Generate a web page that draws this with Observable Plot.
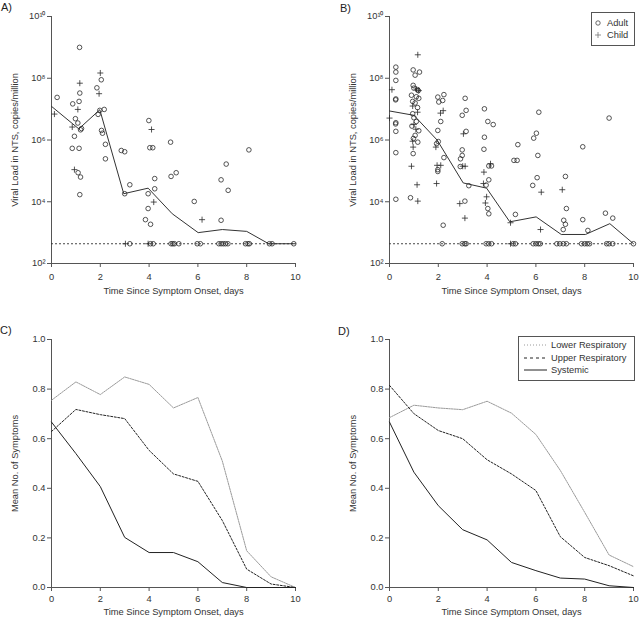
<!DOCTYPE html>
<html><head><meta charset="utf-8">
<script src="https://cdn.jsdelivr.net/npm/d3@7"></script>
<script src="https://cdn.jsdelivr.net/npm/@observablehq/plot@0.6"></script>
<style>
body{margin:0;background:#fff;}
#wrap{position:relative;width:640px;height:618px;font-family:"Liberation Sans",Arial,sans-serif;color:#222;overflow:hidden;}
.panel{position:absolute;}
.panel svg{display:block;}
.tag{position:absolute;font-size:11px;line-height:11px;color:#222;}
.leg{position:absolute;border:1px solid #555;background:#fff;box-sizing:border-box;}
.lt{position:absolute;font-size:9.3px;line-height:10px;color:#333;white-space:nowrap;}
</style></head><body><div id="wrap"></div>
<script>
// ---------- data ----------
const xTicks = [0, 2, 4, 6, 8, 10];
const xDomain = [0, 10];
const logTicks = [2, 4, 6, 8, 10];          // exponents of 10
const logDomain = [2, 10];
const detectionLog = 2.64;                  // limit of detection (log10 copies/million)
const symptomTicks = [0, 0.2, 0.4, 0.6, 0.8, 1.0];
const days = [0, 1, 2, 3, 4, 5, 6, 7, 8, 9, 10];

// Panel A: [day, log10 viral load]
const adultA = [[1.15,9.0],[0.23,7.38],[1.16,7.52],[1.13,7.25],[0.87,7.17],[0.98,6.69],[1.08,6.55],[1.23,6.37],[1.19,6.33],[0.94,6.12],[0.85,5.73],[1.13,5.73],
[2.04,7.95],[1.86,7.69],[1.98,6.96],[2.16,6.99],[1.91,6.83],[2.05,6.31],[2.09,6.22],[2.21,5.86],[2.21,5.39],
[2.86,5.66],[3.0,5.62],[1.09,4.94],[1.19,4.8],[1.16,4.23],[3.21,4.55],[3.0,4.26],
[3.99,6.63],[4.03,5.75],[4.15,5.75],[4.23,4.75],[4.23,4.42],[3.96,4.26],[3.96,3.78],[3.85,3.42],[4.06,3.27],
[4.88,5.93],[8.09,5.68],[7.16,5.22],[4.9,4.82],[5.11,4.94],[6.95,4.71],[7.24,4.37],[5.85,4.01],[6.95,3.40]];
const adultA_lod = [3.21,4.06,4.17,4.9,4.97,5.04,5.22,5.97,6.1,6.86,6.95,7.04,7.13,7.23,7.95,8.05,8.11,8.93,9.04,9.93];
const childA = [[1.16,7.84],[1.08,6.99],[0.12,6.84],[0.85,6.42],[2.0,8.17],[1.95,7.5],[4.1,6.34],[0.94,5.04],[4.19,3.99],[6.17,3.42]];
const childA_lod = [3.03,3.96];
const medianA = [[0,7.09],[1.12,6.36],[1.98,6.98],[2.96,4.26],[3.96,4.44],[4.95,3.61],[6.01,3.0],[7.0,3.1],[8.0,3.04],[8.9,2.64],[10,2.64]];

// Panel B
const adultB = [[0.26,8.36],[0.26,8.2],[0.26,7.93],[0.26,7.33],[0.25,7.3],[0.26,6.56],[0.25,6.52],[0.26,6.28],[0.26,5.59],[0.26,4.08],
[0.97,8.27],[1.23,8.2],[1.05,8.1],[0.97,7.77],[1.0,7.68],[1.15,7.63],[1.18,7.6],[0.9,7.45],[1.1,7.4],[1.2,7.35],[0.95,7.25],[1.05,7.2],[1.15,7.05],[0.95,6.85],[1.0,6.72],[1.1,6.6],[0.92,6.45],[1.2,6.3],[1.05,6.15],[0.98,6.05],[1.16,5.93],[0.97,5.56],[0.86,4.13],
[1.98,7.39],[2.23,7.47],[2.18,7.28],[2.02,7.23],[1.98,6.31],[2.1,6.6],[1.93,5.88],[2.0,5.95],[2.23,5.43],[1.98,5.04],[1.98,4.98],[2.2,3.24],
[3.1,7.35],[3.14,6.96],[2.98,6.8],[3.14,6.28],[2.98,5.68],[2.98,5.5],[2.91,5.39],[2.9,5.14],[3.25,4.52],[3.09,4.02],
[3.89,7.01],[4.03,6.6],[4.25,6.5],[3.89,6.09],[3.87,5.7],[4.07,5.16],[4.18,5.16],[4.07,4.71],[3.96,4.54],[4.03,3.78],[4.07,3.61],
[5.26,5.85],[5.1,5.34],[5.23,5.34],[5.16,3.59],
[6.12,6.9],[6.02,6.22],[5.91,6.06],[6.08,5.5],[6.05,4.78],[5.87,4.53],
[7.21,4.82],[7.25,3.78],[7.14,3.4],[7.21,3.27],[7.12,3.1],
[7.92,5.78],[7.92,3.42],[8.13,3.07],
[9.0,6.71],[8.85,3.63],[9.15,3.47]];
const adultB_lod = [2.16,2.98,3.09,3.14,3.96,4.07,4.18,5.07,5.16,5.89,6.0,6.1,6.18,6.86,6.98,7.12,7.25,7.87,8.0,8.1,8.2,8.9,9.0,9.15,10.0];
const childB = [[0.1,7.63],[0.0,6.71],[1.16,8.76],[1.1,7.65],[1.2,7.6],[0.95,7.1],[1.15,6.9],[1.0,6.5],[1.08,6.35],[0.95,5.96],[0.97,5.77],[0.9,5.15],[1.13,4.55],[1.16,4.02],
[2.09,6.87],[2.2,6.95],[1.9,5.77],[1.95,5.18],[2.1,5.18],[1.93,4.59],
[3.03,6.2],[3.0,5.15],[3.1,5.15],[2.88,3.94],[3.09,3.47],
[4.14,5.23],[3.87,4.96],[3.85,4.59],[3.98,4.16],[3.93,3.96],
[4.96,3.32],[6.22,4.31],[6.19,3.1],[7.08,4.39]];
const childB_lod = [4.96];
const medianB = [[0,6.94],[1.0,6.8],[1.95,6.0],[3.02,4.61],[3.98,4.44],[4.93,3.35],[6.01,3.51],[7.04,2.94],[8.03,2.94],[9.03,3.29],[10,2.64]];

// Panels C and D: mean number of symptoms by day
const lowerC  = [0.755,0.829,0.778,0.849,0.819,0.724,0.766,0.51,0.148,0.043,0];
const upperC  = [0.629,0.718,0.697,0.681,0.553,0.458,0.428,0.27,0.074,0.014,0];
const systemicC = [0.667,0.54,0.407,0.202,0.141,0.141,0.104,0.02,0,0,0];
const lowerD  = [0.685,0.735,0.724,0.717,0.751,0.703,0.617,0.472,0.303,0.131,0.084];
const upperD  = [0.815,0.701,0.633,0.6,0.515,0.458,0.391,0.205,0.121,0.088,0.047];
const systemicD = [0.667,0.465,0.33,0.233,0.192,0.101,0.068,0.038,0.034,0.007,0];

const seriesNames = ["Lower Respiratory", "Upper Respiratory", "Systemic"];
const groupNames = ["Adult", "Child"];

// ---------- styles ----------
const axisColor = "#555";
const inkColor = "#2a2a2a";
const lineStyles = {
  "Lower Respiratory": {stroke: "#9a9a9a", dash: "1.6,1"},
  "Upper Respiratory": {stroke: "#222", dash: "2,1.6"},
  "Systemic": {stroke: "#222", dash: null}
};
const FONT = "'Liberation Sans', Arial, sans-serif";
const FS = "9.3px";
const sup = {"0":"⁰","1":"¹","2":"²","3":"³","4":"⁴","5":"⁵","6":"⁶","7":"⁷","8":"⁸","9":"⁹"};
const powFmt = v => "10" + String(Math.round(Math.log10(v))).split("").map(c => sup[c]).join("");

function axes(yTickVals, yFmt, yLabel, yDom, xPad, xLabOff) {
  return [
    Plot.ruleY([yDom[0]], {stroke: axisColor, strokeWidth: 1}),
    Plot.ruleX([xDomain[0]], {stroke: axisColor, strokeWidth: 1}),
    Plot.axisX(xTicks, {tickSize: 4, tickPadding: xPad, stroke: axisColor, color: "#333",
      label: "Time Since Symptom Onset, days", labelAnchor: "center", labelOffset: xLabOff, labelArrow: "none"}),
    Plot.axisY(yTickVals, {tickSize: 4, tickPadding: 2, stroke: axisColor, color: "#333", tickFormat: yFmt,
      label: yLabel, labelAnchor: "center", labelOffset: 40, labelArrow: "none"})
  ];
}

function viralPlot(adult, adultLod, child, childLod, median, mLeft, mRight) {
  const yTickVals = logTicks.map(e => 10 ** e);
  const yDom = logDomain.map(e => 10 ** e);
  const lod = 10 ** detectionLog;
  return Plot.plot({
    width: 320, height: 309,
    marginTop: 16, marginBottom: 46, marginLeft: mLeft, marginRight: mRight,
    style: {fontSize: FS, fontFamily: FONT, background: "transparent", color: "#333", overflow: "visible"},
    x: {domain: xDomain, axis: null},
    y: {type: "log", domain: yDom, axis: null},
    marks: [
      ...axes(yTickVals, powFmt, "Viral Load in NTS, copies/million", yDom, 6, 30),
      Plot.ruleY([lod], {x1: xDomain[0], x2: xDomain[1], stroke: "#333", strokeWidth: 0.9, strokeDasharray: "2,2"}),
      Plot.line(median, {x: d => d[0], y: d => 10 ** d[1], stroke: "#333", strokeWidth: 1}),
      Plot.dot(adult, {x: d => d[0], y: d => 10 ** d[1], r: 2.3, stroke: inkColor, strokeWidth: 0.8, fill: "none"}),
      Plot.dot(adultLod, {x: d => d, y: () => lod, r: 2.3, stroke: inkColor, strokeWidth: 0.8, fill: "none"}),
      Plot.dot(child, {x: d => d[0], y: d => 10 ** d[1], r: 2.1, symbol: "plus", stroke: inkColor, strokeWidth: 0.8}),
      Plot.dot(childLod, {x: d => d, y: () => lod, r: 2.1, symbol: "plus", stroke: inkColor, strokeWidth: 0.8})
    ]
  });
}

function symptomPlot(lower, upper, systemic, mLeft, mRight) {
  const rows = [];
  [lower, upper, systemic].forEach((arr, i) => arr.forEach((v, j) => rows.push({day: days[j], v, s: seriesNames[i]})));
  const yDom = [0, 1];
  return Plot.plot({
    width: 320, height: 309,
    marginTop: 30, marginBottom: 31, marginLeft: mLeft, marginRight: mRight,
    style: {fontSize: FS, fontFamily: FONT, background: "transparent", color: "#333", overflow: "visible"},
    x: {domain: xDomain, axis: null},
    y: {domain: yDom, axis: null},
    marks: [
      ...axes(symptomTicks, d3.format(".1f"), "Mean No. of Symptoms", yDom, 4, 27),
      ...seriesNames.map(name => Plot.line(rows.filter(r => r.s === name), {
        x: "day", y: "v", stroke: lineStyles[name].stroke, strokeWidth: 1,
        strokeDasharray: lineStyles[name].dash || undefined
      }))
    ]
  });
}

const wrap = document.getElementById("wrap");
function place(node, left, top) {
  const d = document.createElement("div");
  d.className = "panel"; d.style.left = left + "px"; d.style.top = top + "px";
  d.appendChild(node); wrap.appendChild(d);
}
place(viralPlot(adultA, adultA_lod, childA, childA_lod, medianA, 51, 25), 0, 0);
place(viralPlot(adultB, adultB_lod, childB, childB_lod, medianB, 69, 7), 320, 0);
place(symptomPlot(lowerC, upperC, systemicC, 51, 25), 0, 309);
place(symptomPlot(lowerD, upperD, systemicD, 69, 7), 320, 309);

function tag(txt, left, top) {
  const t = document.createElement("div"); t.className = "tag"; t.textContent = txt;
  t.style.left = left + "px"; t.style.top = top + "px"; wrap.appendChild(t);
}
tag("A)", 1, 2); tag("B)", 340, 3); tag("C)", 0, 325); tag("D)", 338, 326);

// legend B
const lb = document.createElement("div"); lb.className = "leg";
Object.assign(lb.style, {left: "591px", top: "12px", width: "44px", height: "34px"});
wrap.appendChild(lb);
const ns = "http://www.w3.org/2000/svg";
function svgEl(w, h) { const s = document.createElementNS(ns, "svg"); s.setAttribute("width", w); s.setAttribute("height", h); s.style.position = "absolute"; s.style.overflow = "visible"; return s; }
groupNames.forEach((g, i) => {
  const cy = 23 + i * 11.5;
  const s = svgEl(8, 8); s.style.left = "594px"; s.style.top = (cy - 4) + "px";
  if (g === "Adult") {
    const c = document.createElementNS(ns, "circle"); c.setAttribute("cx", 4); c.setAttribute("cy", 4); c.setAttribute("r", 2.2);
    c.setAttribute("fill", "none"); c.setAttribute("stroke", "#444"); c.setAttribute("stroke-width", 0.8); s.appendChild(c);
  } else {
    const p = document.createElementNS(ns, "path"); p.setAttribute("d", "M1,4H7M4,1V7");
    p.setAttribute("stroke", "#777"); p.setAttribute("stroke-width", 0.8); s.appendChild(p);
  }
  wrap.appendChild(s);
  const t = document.createElement("div"); t.className = "lt"; t.textContent = g;
  t.style.left = "607px"; t.style.top = (cy - 5) + "px"; wrap.appendChild(t);
});

// legend D
const ld = document.createElement("div"); ld.className = "leg";
Object.assign(ld.style, {left: "518px", top: "336px", width: "117px", height: "45px"});
wrap.appendChild(ld);
seriesNames.forEach((name, i) => {
  const cy = 345 + i * 12.7;
  const s = svgEl(24, 4); s.style.left = "524px"; s.style.top = (cy - 2) + "px";
  const l = document.createElementNS(ns, "line");
  l.setAttribute("x1", 0); l.setAttribute("x2", 23); l.setAttribute("y1", 2); l.setAttribute("y2", 2);
  l.setAttribute("stroke", lineStyles[name].stroke); l.setAttribute("stroke-width", 1);
  if (lineStyles[name].dash) l.setAttribute("stroke-dasharray", name === "Lower Respiratory" ? "1,2" : "3,3");
  s.appendChild(l); wrap.appendChild(s);
  const t = document.createElement("div"); t.className = "lt"; t.textContent = name;
  t.style.left = "551px"; t.style.top = (cy - 5) + "px"; wrap.appendChild(t);
});
</script></body></html>
